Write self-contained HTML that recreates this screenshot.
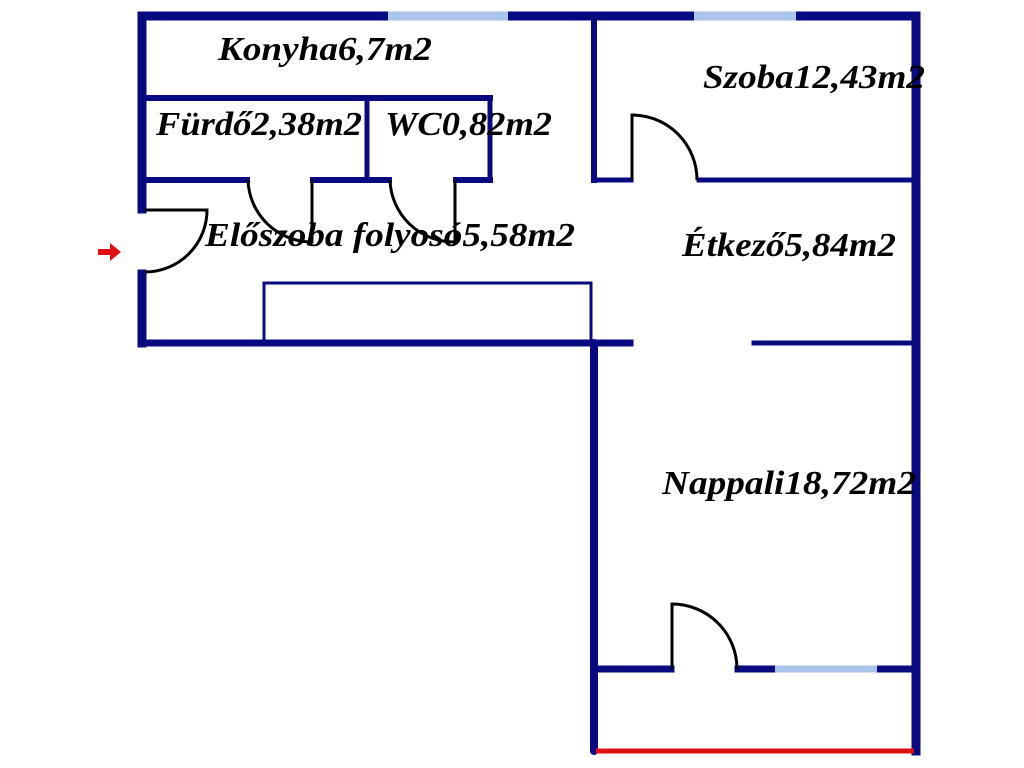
<!DOCTYPE html>
<html><head><meta charset="utf-8"><style>
html,body{margin:0;padding:0;background:#fff;}
svg{display:block;}
text{font-family:"Liberation Serif","Times New Roman",serif;font-weight:bold;font-style:italic;font-size:34px;fill:#000;}
</style></head><body>
<svg width="1024" height="768" viewBox="0 0 1024 768" xmlns="http://www.w3.org/2000/svg">
<rect width="1024" height="768" fill="#fff"/>
<g stroke="#0a0a80" stroke-linecap="square" fill="none">
  <line x1="142" y1="16" x2="388" y2="16" stroke-width="9"/>
  <line x1="508" y1="16" x2="694" y2="16" stroke-width="9"/>
  <line x1="796" y1="16" x2="915" y2="16" stroke-width="9"/>
  <line x1="142" y1="16" x2="142" y2="209" stroke-width="9"/>
  <line x1="142" y1="274" x2="142" y2="343" stroke-width="9"/>
  <line x1="142" y1="343" x2="630" y2="343" stroke-width="7"/>
  <line x1="754" y1="343" x2="915" y2="343" stroke-width="5"/>
  <line x1="916" y1="16" x2="916" y2="751" stroke-width="9"/>
  <line x1="594" y1="16" x2="594" y2="180" stroke-width="6"/>
  <line x1="594" y1="180" x2="631" y2="180" stroke-width="5"/>
  <line x1="699" y1="180" x2="915" y2="180" stroke-width="5"/>
  <line x1="594" y1="343" x2="594" y2="751" stroke-width="8" stroke-linecap="round"/>
  <line x1="142" y1="98" x2="490" y2="98" stroke-width="6"/>
  <line x1="367" y1="98" x2="367" y2="180" stroke-width="5"/>
  <line x1="490" y1="98" x2="490" y2="180" stroke-width="5"/>
  <line x1="142" y1="180" x2="247" y2="180" stroke-width="6"/>
  <line x1="313" y1="180" x2="389" y2="180" stroke-width="6"/>
  <line x1="456" y1="180" x2="490" y2="180" stroke-width="6"/>
  <rect x="264" y="283" width="327" height="60" stroke-width="3"/>
  <line x1="594" y1="669" x2="671" y2="669" stroke-width="7"/>
  <line x1="738" y1="669" x2="775" y2="669" stroke-width="7"/>
  <line x1="877" y1="669" x2="915" y2="669" stroke-width="7"/>
</g>
<g stroke="#a8c4ea" stroke-width="9">
  <line x1="388" y1="16" x2="508" y2="16"/>
  <line x1="694" y1="16" x2="796" y2="16"/>
  <line x1="775" y1="669" x2="877" y2="669" stroke-width="7"/>
</g>
<line x1="596" y1="751" x2="914" y2="751" stroke="#e01010" stroke-width="5"/>
<g stroke="#000" stroke-width="3" fill="none">
  <path d="M145 210 H207 A62 62 0 0 1 145 272"/>
  <path d="M248 180 A64 64 0 0 0 312 242 V180"/>
  <path d="M390 180 A64 64 0 0 0 455 242 V180"/>
  <path d="M632 180 V115 A65 65 0 0 1 697 180"/>
  <path d="M672 669 V604 A65 65 0 0 1 737 669"/>
</g>
<path d="M98 249 H110 V243 L121 252 L110 261 V255 H98 Z" fill="#e01010"/>
<text x="218" y="60" textLength="214" lengthAdjust="spacingAndGlyphs">Konyha6,7m2</text>
<text x="156" y="135" textLength="206" lengthAdjust="spacingAndGlyphs">Fürdő2,38m2</text>
<text x="385" y="135" textLength="167" lengthAdjust="spacingAndGlyphs">WC0,82m2</text>
<text x="205" y="246" textLength="370" lengthAdjust="spacingAndGlyphs">Előszoba folyosó5,58m2</text>
<text x="703" y="88" textLength="222" lengthAdjust="spacingAndGlyphs">Szoba12,43m2</text>
<text x="682" y="256" textLength="214" lengthAdjust="spacingAndGlyphs">Étkező5,84m2</text>
<text x="662" y="494" textLength="254" lengthAdjust="spacingAndGlyphs">Nappali18,72m2</text>
</svg>
</body></html>
